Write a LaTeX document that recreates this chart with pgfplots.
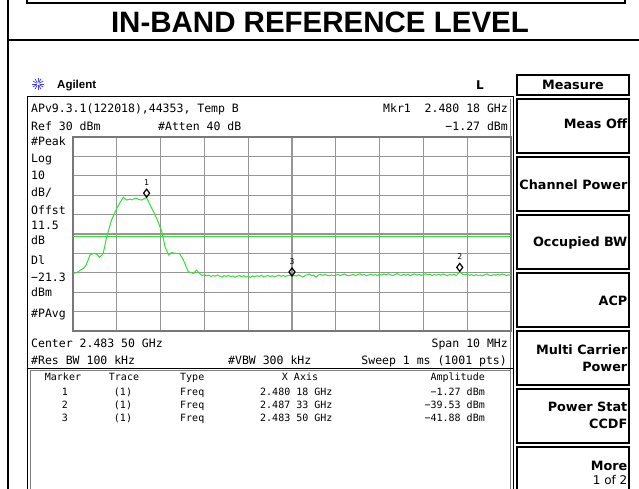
\documentclass[border=0pt]{standalone}
\usepackage{pgfplots}
\pgfplotsset{compat=1.18}
\usepackage{fontspec}
\setmainfont{Liberation Sans}
\newfontfamily\mono{DejaVu Sans Mono}
\newfontfamily\dvs{DejaVu Sans}
\definecolor{trace}{RGB}{50,225,50}
\definecolor{gridc}{RGB}{150,150,150}
\definecolor{framec}{RGB}{120,120,120}
\newcommand\scr{\fontsize{11.5}{12}\selectfont\mono}
\newcommand\tbl{\fontsize{10}{11}\selectfont\mono}
\newcommand\sk{\fontsize{12.8}{14}\selectfont\dvs\bfseries}
\begin{document}
\begin{tikzpicture}[x=1pt,y=1pt]
\useasboundingbox (0,0) rectangle (639,-489);
\clip (0,0) rectangle (639,-489);
\fill[white] (0,0) rectangle (639,-489);
% outer page frame
\draw[line width=2pt] (8,0) -- (8,-489);
\draw[line width=2pt] (8,-40) -- (639,-40);
\draw[line width=1.8pt] (27,1) -- (27,-3) -- (625,-3) -- (625,1);
\node[font=\fontsize{29.5}{30}\selectfont\bfseries] at (320,-22) {IN-BAND REFERENCE LEVEL};
% Agilent logo
\foreach \a in {0,30,...,330} \draw[blue!75, line width=0.7pt] (38,-84) ++(\a:1.5) -- ++(\a:4.5);
\node[anchor=base west, font=\fontsize{11.5}{12}\selectfont\bfseries, inner sep=0pt] at (57,-89) {Agilent};
\node[font=\fontsize{12}{13}\selectfont\dvs\bfseries, inner sep=0pt] at (480,-85) {L};
% screen frame
\draw[line width=1pt] (27,-97) -- (513,-97) -- (513,-495);
\draw[line width=1pt] (27,-97) -- (27,-495);
\draw[line width=0.8pt, gray] (510.5,-99) -- (510.5,-495);
\draw[line width=1pt] (27,-368) -- (513,-368);
\draw[line width=1pt, gray] (30,-495) -- (30,-370.5) -- (510.5,-370.5);
% annotation text
\begin{scope}[every node/.style={inner sep=0pt, font=\scr}]
\node[anchor=base west] at (31,-112.5) {APv9.3.1(122018),44353, Temp B};
\node[anchor=base west] at (31,-131) {Ref 30 dBm};
\node[anchor=base west] at (158,-131) {\#Atten 40 dB};
\node[anchor=base east] at (508,-112.5) {Mkr1 \ 2.480 18 GHz};
\node[anchor=base east] at (508,-131) {−1.27 dBm};
\node[anchor=base west] at (31,-146) {\#Peak};
\node[anchor=base west] at (31,-163) {Log};
\node[anchor=base west] at (31,-179.5) {10};
\node[anchor=base west] at (31,-196) {dB/};
\node[anchor=base west] at (31,-214.5) {Offst};
\node[anchor=base west] at (31,-229.5) {11.5};
\node[anchor=base west] at (31,-244.5) {dB};
\node[anchor=base west] at (31,-264.5) {Dl};
\node[anchor=base west] at (31,-281) {−21.3};
\node[anchor=base west] at (31,-296) {dBm};
\node[anchor=base west] at (31,-317) {\#PAvg};
\node[anchor=base west] at (31,-347) {Center 2.483 50 GHz};
\node[anchor=base east] at (508,-347) {Span 10 MHz};
\node[anchor=base west] at (31,-364.5) {\#Res BW 100 kHz};
\node[anchor=base west] at (228,-364.5) {\#VBW 300 kHz};
\node[anchor=base east] at (507,-364.5) {Sweep 1 ms (1001 pts)};
\end{scope}
% marker table
\begin{scope}[every node/.style={inner sep=0pt, font=\tbl}]
\node[anchor=base] at (63,-380.4) {Marker};
\node[anchor=base] at (124,-380.4) {Trace};
\node[anchor=base west] at (180,-380.4) {Type};
\node[anchor=base] at (300,-380.4) {X Axis};
\node[anchor=base east] at (485,-380.4) {Amplitude};
\node[anchor=base] at (65,-395.7) {1};
\node[anchor=base] at (65,-408.7) {2};
\node[anchor=base] at (65,-421.7) {3};
\node[anchor=base] at (123,-395.7) {(1)};
\node[anchor=base] at (123,-408.7) {(1)};
\node[anchor=base] at (123,-421.7) {(1)};
\node[anchor=base west] at (180,-395.7) {Freq};
\node[anchor=base west] at (180,-408.7) {Freq};
\node[anchor=base west] at (180,-421.7) {Freq};
\node[anchor=base west] at (260,-395.7) {2.480 18 GHz};
\node[anchor=base west] at (260,-408.7) {2.487 33 GHz};
\node[anchor=base west] at (260,-421.7) {2.483 50 GHz};
\node[anchor=base east] at (485,-395.7) {−1.27 dBm};
\node[anchor=base east] at (485,-408.7) {−39.53 dBm};
\node[anchor=base east] at (485,-421.7) {−41.88 dBm};
\end{scope}
% softkeys
\draw[line width=1.6pt] (517,-75) rectangle (629,-95);
\node[font=\sk, inner sep=0pt] at (573,-85) {Measure};
\foreach \t in {99.3,157.3,215,272.7,331,389,447.3}
  \draw[line width=1.8pt] (517,-\t) rectangle (629,-\t-54);
\begin{scope}[every node/.style={inner sep=0pt, font=\sk, anchor=east}]
\node at (627.5,-123.3) {Meas Off};
\node at (627.5,-185) {Channel Power};
\node at (627.5,-242.7) {Occupied BW};
\node at (627.5,-300.7) {ACP};
\node at (627.5,-350) {Multi Carrier};
\node at (627.5,-367.3) {Power};
\node at (627.5,-407.3) {Power Stat};
\node at (627.5,-424) {CCDF};
\node at (627.5,-465.5) {More};
\node[font=\fontsize{12}{13}\selectfont\dvs] at (627.5,-480.5) {1 of 2};
\end{scope}
% graticule and trace
\begin{axis}[at={(73pt,-331pt)}, anchor=south west, scale only axis,
  width=438pt, height=194pt,
  xmin=2478.5, xmax=2488.5, ymin=-70, ymax=30,
  xtick={2478.5,2479.5,2480.5,2481.5,2482.5,2483.5,2484.5,2485.5,2486.5,2487.5,2488.5},
  ytick={-70,-60,-50,-40,-30,-20,-10,0,10,20,30},
  xticklabels={}, yticklabels={}, major tick length=0pt,
  grid=major, grid style={draw=gridc, line width=1.1pt},
  axis line style={draw=framec, line width=1.4pt},
  clip=false]
\addplot[trace, line width=1.6pt] coordinates {(2478.5,-21.3) (2488.5,-21.3)};
\addplot[trace, line width=1pt] coordinates {
(2478.51,-40.3) (2478.60,-39.8) (2478.67,-38.6) (2478.74,-37.7) (2478.80,-36.0)
(2478.89,-30.8) (2478.95,-30.2) (2479.00,-30.0) (2479.05,-30.5) (2479.10,-32.0)
(2479.15,-31.0) (2479.19,-30.0) (2479.27,-21.4) (2479.38,-12.8) (2479.50,-6.8)
(2479.58,-3.5) (2479.65,-1.1) (2479.73,-2.5) (2479.80,-2.0) (2479.84,-2.4)
(2479.90,-1.8) (2479.94,-1.5) (2480.00,-2.2) (2480.07,-2.5) (2480.12,-1.8)
(2480.18,-1.27) (2480.26,-5.0) (2480.41,-11.9) (2480.53,-18.8) (2480.60,-26.5)
(2480.68,-30.8) (2480.75,-29.6) (2480.85,-30.0) (2480.93,-30.0) (2481.02,-33.4)
(2481.13,-39.4) (2481.25,-40.3) (2481.32,-38.6)
(2481.40,-40.6) (2481.45,-41.3) (2481.50,-41.0) (2481.55,-41.6) (2481.60,-41.2)
(2481.65,-41.9) (2481.70,-41.4) (2481.75,-41.7) (2481.80,-41.1) (2481.85,-41.8)
(2481.90,-42.1) (2481.95,-41.5) (2482.00,-41.9) (2482.05,-41.3) (2482.10,-42.0)
(2482.15,-41.6) (2482.20,-42.3) (2482.25,-41.7) (2482.30,-41.4) (2482.35,-42.0)
(2482.40,-41.5) (2482.45,-42.2) (2482.50,-41.8) (2482.55,-42.4) (2482.60,-41.6)
(2482.65,-42.0) (2482.70,-41.5) (2482.75,-41.9) (2482.80,-41.3) (2482.85,-42.1)
(2482.90,-41.7) (2482.95,-41.4) (2483.00,-41.9) (2483.05,-41.5) (2483.10,-42.1)
(2483.15,-41.6) (2483.20,-41.2) (2483.25,-41.8) (2483.30,-41.4) (2483.35,-41.9)
(2483.40,-41.5) (2483.45,-41.2) (2483.50,-41.88) (2483.55,-41.3) (2483.60,-41.7)
(2483.65,-41.0) (2483.70,-41.6) (2483.75,-42.2) (2483.80,-41.4) (2483.85,-41.0)
(2483.90,-40.6) (2483.95,-41.5) (2484.00,-41.1) (2484.05,-42.3) (2484.10,-41.2)
(2484.15,-40.8) (2484.20,-41.4) (2484.25,-40.7) (2484.30,-41.3) (2484.35,-41.6)
(2484.40,-41.1) (2484.45,-41.5) (2484.50,-41.2) (2484.55,-40.9) (2484.60,-41.4)
(2484.65,-41.0) (2484.70,-40.6) (2484.75,-41.3) (2484.80,-41.5) (2484.85,-41.1)
(2484.90,-40.8) (2484.95,-41.4) (2485.00,-41.0) (2485.05,-40.5) (2485.10,-41.2)
(2485.15,-40.9) (2485.20,-41.5) (2485.25,-41.1) (2485.30,-40.7) (2485.35,-41.3)
(2485.40,-40.9) (2485.45,-41.4) (2485.50,-40.8) (2485.55,-41.2) (2485.60,-40.6)
(2485.65,-41.1) (2485.70,-40.5) (2485.75,-41.0) (2485.80,-41.4) (2485.85,-40.9)
(2485.90,-40.4) (2485.95,-41.0) (2486.00,-41.3) (2486.05,-40.8) (2486.10,-41.2)
(2486.15,-40.7) (2486.20,-41.5) (2486.25,-41.0) (2486.30,-40.6) (2486.35,-41.2)
(2486.40,-40.8) (2486.45,-41.3) (2486.50,-41.0) (2486.55,-40.5) (2486.60,-41.1)
(2486.65,-40.7) (2486.70,-41.4) (2486.75,-40.9) (2486.80,-41.2) (2486.85,-40.8)
(2486.90,-41.3) (2486.95,-40.6) (2487.00,-41.0) (2487.05,-41.5) (2487.10,-40.9)
(2487.15,-41.2) (2487.20,-40.7) (2487.25,-41.4) (2487.30,-40.2) (2487.33,-39.53)
(2487.40,-40.8) (2487.45,-41.1) (2487.50,-40.6) (2487.55,-41.3) (2487.60,-40.9)
(2487.65,-41.5) (2487.70,-41.0) (2487.75,-41.4) (2487.80,-41.1) (2487.85,-41.6)
(2487.90,-41.0) (2487.95,-40.6) (2488.00,-41.2) (2488.05,-41.5) (2488.10,-40.9)
(2488.15,-41.3) (2488.20,-40.8) (2488.25,-41.2) (2488.30,-40.6) (2488.35,-41.0)
(2488.40,-41.4) (2488.45,-41.0) (2488.50,-41.3)};
\addplot[only marks, mark=diamond, mark size=4pt,
  mark options={draw=black, fill=white, line width=1.2pt, yshift=4.5pt}]
  coordinates {(2480.18,-1.27) (2487.33,-39.53) (2483.50,-41.88)};
\node[font=\fontsize{8}{9}\selectfont\mono, yshift=15pt] at (axis cs:2480.18,-1.27) {1};
\node[font=\fontsize{8}{9}\selectfont\mono, yshift=15pt] at (axis cs:2487.33,-39.53) {2};
\node[font=\fontsize{8}{9}\selectfont\mono, yshift=15pt] at (axis cs:2483.50,-41.88) {3};
\end{axis}
\end{tikzpicture}
\end{document}
